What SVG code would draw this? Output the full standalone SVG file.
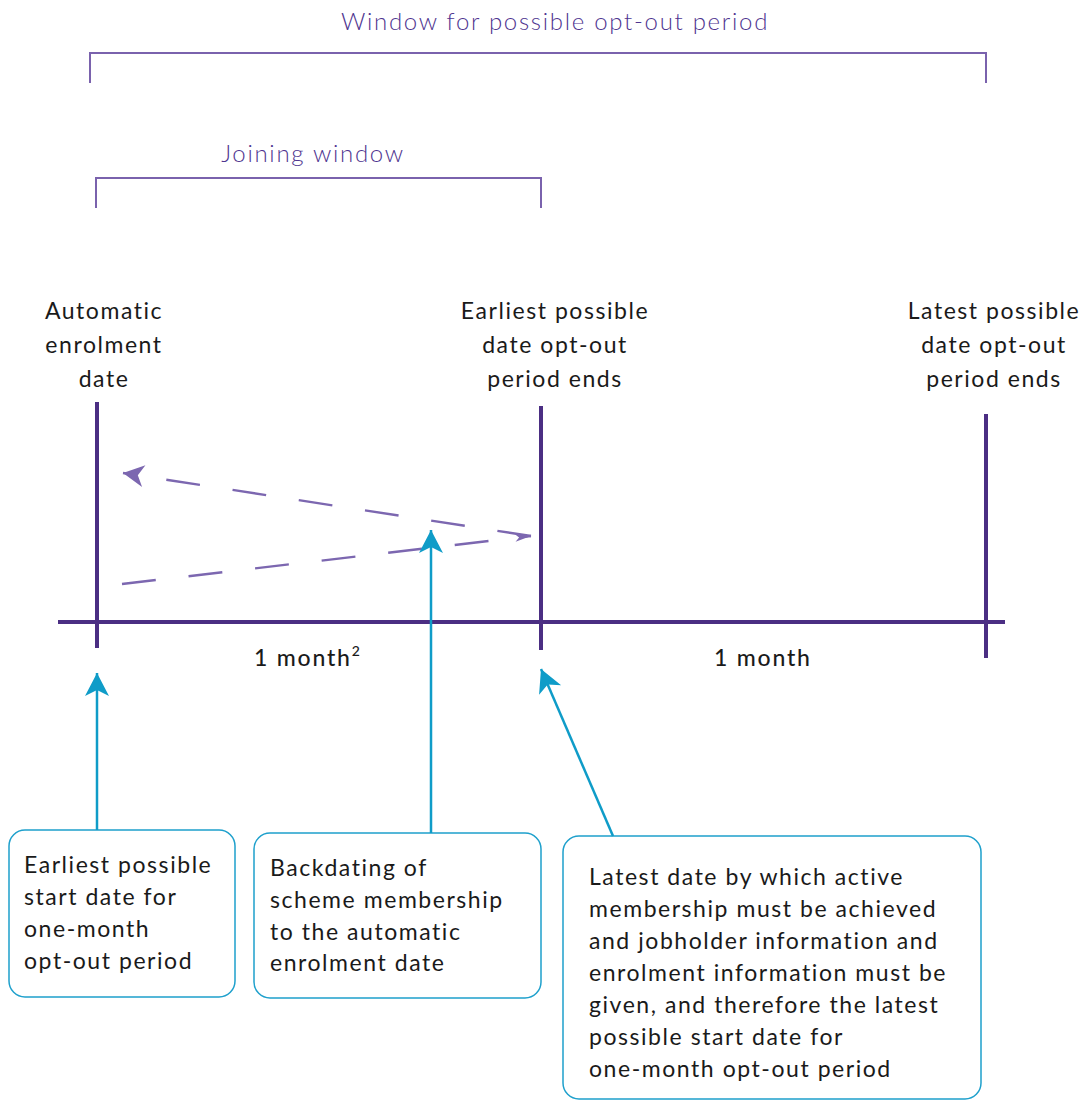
<svg xmlns="http://www.w3.org/2000/svg" width="1085" height="1101" viewBox="0 0 1085 1101">
<defs>
<style>
.t{font-family:Lato,"Noto Sans","Liberation Sans",sans-serif;font-size:23px;letter-spacing:1.55px;fill:#1a1a1a}
.h{font-family:Lato,"Noto Sans","Liberation Sans",sans-serif;font-size:24px;letter-spacing:1.7px;fill:#4f3590;font-weight:300}
.m{font-family:Lato,"Noto Sans","Liberation Sans",sans-serif;font-size:23px;letter-spacing:1.8px;fill:#1a1a1a;font-weight:500}
.ax{stroke:#4b2e83;stroke-width:4;fill:none}
.br{stroke:#7a62ad;stroke-width:2;fill:none}
.ds{stroke:#7c67b0;stroke-width:2.4;fill:none;stroke-dasharray:34 33}
.bl{stroke:#0f9cc8;stroke-width:2.5;fill:none}
.bx{stroke:#1ea0cc;stroke-width:1.5;fill:#fff}
</style>
<marker id="ab" markerUnits="userSpaceOnUse" markerWidth="30" markerHeight="30" viewBox="-25 -15 30 30" refX="0" refY="0" orient="auto">
<path d="M0,0 L-23,-12 L-17,0 L-23,12 Z" fill="#0f9cc8"/>
</marker>
<marker id="ap" markerUnits="userSpaceOnUse" markerWidth="30" markerHeight="30" viewBox="-25 -15 30 30" refX="0" refY="0" orient="auto">
<path d="M0,0 L-21,-11 L-15,0 L-21,11 Z" fill="#7c67b0"/>
</marker>
<marker id="aps" markerUnits="userSpaceOnUse" markerWidth="30" markerHeight="30" viewBox="-25 -15 30 30" refX="0" refY="0" orient="auto">
<path d="M0,0 L-16,-4 L-12,0 L-16,4 Z" fill="#7c67b0"/>
</marker>
</defs>

<g id="window-bracket">
<path class="br" d="M90,83 V53 H986 V83"/>
<text class="h" x="555" y="30" text-anchor="middle">Window for possible opt-out period</text>
</g>
<g id="joining-bracket">
<path class="br" d="M96,208 V178 H541 V208"/>
<text class="h" x="313" y="162" text-anchor="middle">Joining window</text>
</g>

<g id="timeline">
<line class="ax" x1="58" y1="622" x2="1005" y2="622"/>
</g>
<g id="auto-enrolment-date">
<line class="ax" x1="97" y1="402" x2="97" y2="648"/>
<text class="t" text-anchor="middle"><tspan x="104" y="319">Automatic</tspan><tspan x="104" y="353">enrolment</tspan><tspan x="104" y="387">date</tspan></text>
</g>
<g id="earliest-end">
<line class="ax" x1="541" y1="406" x2="541" y2="650"/>
<text class="t" text-anchor="middle"><tspan x="555" y="319">Earliest possible</tspan><tspan x="555" y="353">date opt-out</tspan><tspan x="555" y="387">period ends</tspan></text>
</g>
<g id="latest-end">
<line class="ax" x1="986" y1="414" x2="986" y2="658"/>
<text class="t" text-anchor="middle"><tspan x="994" y="319">Latest possible</tspan><tspan x="994" y="353">date opt-out</tspan><tspan x="994" y="387">period ends</tspan></text>
</g>
<g id="month-labels">
<text class="m" x="254" y="666">1 month<tspan font-size="14" dy="-10" letter-spacing="0">2</tspan></text>
<text class="m" x="714" y="666">1 month</text>
</g>

<g id="box-earliest-start">
<rect class="bx" x="9" y="830" width="226" height="167" rx="16"/>
<text class="t"><tspan x="24" y="873">Earliest possible</tspan><tspan x="24" y="905">start date for</tspan><tspan x="24" y="937">one-month</tspan><tspan x="24" y="969">opt-out period</tspan></text>
</g>
<g id="box-backdating">
<rect class="bx" x="254" y="833" width="287" height="165" rx="16"/>
<text class="t"><tspan x="270" y="876">Backdating of</tspan><tspan x="270" y="908">scheme membership</tspan><tspan x="270" y="940">to the automatic</tspan><tspan x="270" y="971">enrolment date</tspan></text>
</g>
<g id="box-latest-start">
<rect class="bx" x="563" y="836" width="418" height="263" rx="16"/>
<text class="t"><tspan x="589" y="885">Latest date by which active</tspan><tspan x="589" y="917">membership must be achieved</tspan><tspan x="589" y="949">and jobholder information and</tspan><tspan x="589" y="981">enrolment information must be</tspan><tspan x="589" y="1013">given, and therefore the latest</tspan><tspan x="589" y="1045">possible start date for</tspan><tspan x="589" y="1077">one-month opt-out period</tspan></text>
</g>

<g id="connectors">
<line class="ds" x1="122" y1="584" x2="531" y2="536" marker-end="url(#aps)"/>
<line class="ds" x1="531" y1="536" x2="123" y2="473" marker-end="url(#ap)"/>
<line class="bl" x1="97" y1="830" x2="97" y2="673" marker-end="url(#ab)"/>
<line class="bl" x1="431" y1="833" x2="431" y2="530" marker-end="url(#ab)"/>
<line class="bl" x1="613" y1="836" x2="541" y2="669" marker-end="url(#ab)"/>
</g>
</svg>
